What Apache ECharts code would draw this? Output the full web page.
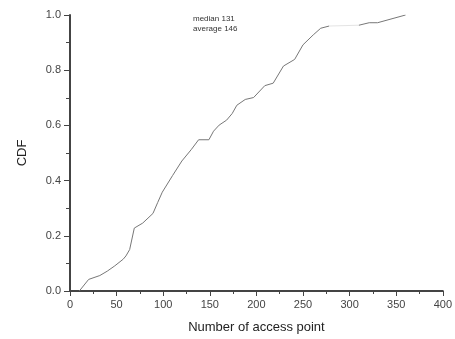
<!DOCTYPE html>
<html><head><meta charset="utf-8">
<script src="https://cdn.jsdelivr.net/npm/echarts@6/dist/echarts.min.js"></script>
<style>html,body{margin:0;padding:0;background:#fff}#c{width:455px;height:339px}</style>
</head><body><div id="c"></div>
<script>
const accessPoints = [10, 20, 32, 40, 48, 57, 60, 64, 69, 78, 89, 94, 99, 110, 120, 130, 138, 149, 154, 160, 168, 174, 179, 188, 197, 209, 218, 229, 241, 250, 261, 269, 278, 310, 321, 330, 360];
const cdfValues = [0, 0.042, 0.056, 0.072, 0.091, 0.115, 0.127, 0.15, 0.228, 0.246, 0.281, 0.32, 0.358, 0.418, 0.471, 0.512, 0.548, 0.548, 0.579, 0.601, 0.619, 0.643, 0.673, 0.694, 0.701, 0.744, 0.753, 0.815, 0.839, 0.892, 0.928, 0.952, 0.960, 0.963, 0.972, 0.972, 1.0];
const annotations = ["median 131", "average 146"];
const xTitle = "Number of access point";
const yTitle = "CDF";
const faintFrom = 32; // segment between index 32 and 33 is drawn very faintly

const pts = accessPoints.map((x, i) => [x, cdfValues[i]]);
const chart = echarts.init(document.getElementById('c'), null, {renderer: 'canvas'});
const axisCol = '#444';
const lineSeries = (data, color) => ({
  type: 'line', showSymbol: false, smooth: false, data,
  lineStyle: {color, width: 1}, itemStyle: {color}
});
chart.setOption({
  animation: false,
  backgroundColor: '#fff',
  grid: {left: 70, right: 9, top: 15, bottom: 43},
  graphic: [{
    type: 'text', left: 193, top: 14,
    style: {text: annotations.join('\n'), font: '8px "Liberation Sans", Arial', fill: '#333', lineHeight: 10}
  }],
  xAxis: {
    type: 'value', min: 0, max: 400, interval: 50,
    name: xTitle, nameLocation: 'middle', nameGap: 30,
    nameTextStyle: {fontFamily: 'Liberation Sans', fontSize: 13, color: '#222'},
    axisLine: {lineStyle: {color: axisCol, width: 2}},
    axisTick: {length: 5, lineStyle: {color: axisCol, width: 1}},
    minorTick: {show: true, splitNumber: 2, length: 3, lineStyle: {color: axisCol}},
    splitLine: {show: false},
    axisLabel: {fontFamily: 'Liberation Sans', fontSize: 11, color: '#444', margin: 8}
  },
  yAxis: {
    type: 'value', min: 0, max: 1, interval: 0.2,
    name: yTitle, nameLocation: 'middle', nameGap: 41, nameRotate: 90,
    nameTextStyle: {fontFamily: 'Liberation Sans', fontSize: 13, color: '#222'},
    axisLine: {show: true, lineStyle: {color: axisCol, width: 2}},
    axisTick: {show: true, length: 6, lineStyle: {color: axisCol, width: 1}},
    minorTick: {show: true, splitNumber: 2, length: 4, lineStyle: {color: axisCol}},
    splitLine: {show: false},
    axisLabel: {fontFamily: 'Liberation Sans', fontSize: 11, color: '#444', margin: 9,
      formatter: v => v.toFixed(1)}
  },
  series: [
    lineSeries(pts.slice(0, faintFrom + 1), '#777'),
    lineSeries(pts.slice(faintFrom, faintFrom + 2), '#e4e4e4'),
    lineSeries(pts.slice(faintFrom + 1), '#777')
  ]
});
</script></body></html>
